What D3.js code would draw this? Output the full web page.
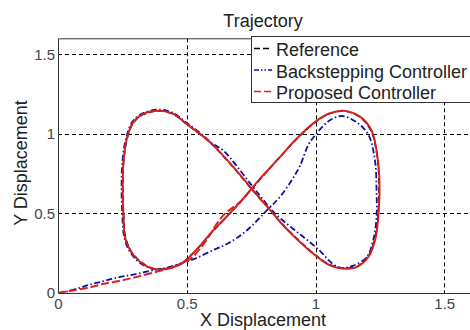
<!DOCTYPE html>
<html>
<head>
<meta charset="utf-8">
<script src="https://cdn.jsdelivr.net/npm/d3@7"></script>
<style>
  body { margin: 0; background: #fff; }
  svg { display: block; font-family: Arial, "Liberation Sans", sans-serif; }
</style>
</head>
<body>
<svg width="470" height="330"></svg>
<script>
// Data: [x, y] pairs
const reference = [
  [0.752, 0.652], [0.80, 0.742], [0.86, 0.852], [0.93, 0.972], [1.005, 1.08], [1.056, 1.127],
  [1.108, 1.143], [1.17, 1.108], [1.215, 1.02], [1.236, 0.895], [1.246, 0.727], [1.243, 0.5],
  [1.229, 0.332], [1.203, 0.228], [1.16, 0.166], [1.12, 0.155], [1.058, 0.176], [1.008, 0.228],
  [0.932, 0.336], [0.876, 0.425], [0.83, 0.51], [0.752, 0.652], [0.69, 0.772], [0.629, 0.882],
  [0.584, 0.955], [0.5, 1.06], [0.448, 1.122], [0.396, 1.143], [0.332, 1.122], [0.293, 1.07],
  [0.268, 0.966], [0.255, 0.82], [0.252, 0.655], [0.255, 0.488], [0.262, 0.352], [0.282, 0.268],
  [0.314, 0.206], [0.352, 0.165], [0.39, 0.149], [0.43, 0.157], [0.48, 0.187], [0.532, 0.262],
  [0.603, 0.39], [0.661, 0.488], [0.70, 0.556], [0.752, 0.652]
];

const backstepping = [
  [0, 0], [0.03, 0.008], [0.08, 0.03], [0.118, 0.05], [0.163, 0.069], [0.247, 0.103],
  [0.292, 0.115], [0.377, 0.146], [0.422, 0.158], [0.48, 0.188], [0.532, 0.216], [0.603, 0.27],
  [0.661, 0.312], [0.733, 0.393], [0.817, 0.529], [0.86, 0.6], [0.907, 0.707], [0.94, 0.8],
  [0.972, 0.93], [0.998, 0.99], [1.03, 1.05], [1.056, 1.085], [1.1, 1.112], [1.16, 1.072],
  [1.205, 0.995], [1.231, 0.832], [1.237, 0.644], [1.237, 0.476], [1.224, 0.33], [1.199, 0.226],
  [1.147, 0.172], [1.095, 0.158], [1.055, 0.2], [1.02, 0.26], [0.97, 0.33], [0.92, 0.394],
  [0.87, 0.46], [0.83, 0.52], [0.79, 0.6], [0.752, 0.677], [0.7, 0.785], [0.642, 0.895],
  [0.597, 0.942], [0.56, 0.995], [0.5, 1.068], [0.448, 1.13], [0.396, 1.152], [0.331, 1.13],
  [0.29, 1.078], [0.264, 0.97], [0.25, 0.82], [0.247, 0.655], [0.25, 0.487], [0.257, 0.351],
  [0.277, 0.265], [0.31, 0.2], [0.35, 0.16], [0.39, 0.146], [0.44, 0.16], [0.48, 0.186]
];

// proposed controller: transient from the origin, then the loop
const proposedStart = [
  [0, 0], [0.04, 0.012], [0.12, 0.034], [0.18, 0.058], [0.25, 0.08], [0.31, 0.103],
  [0.38, 0.132], [0.43, 0.153], [0.48, 0.184], [0.52, 0.222], [0.571, 0.32], [0.636, 0.477],
  [0.713, 0.582], [0.752, 0.655]
];
const proposedLoop = [
  [0.752, 0.655], [0.778, 0.706], [0.86, 0.85], [0.93, 0.975], [1.005, 1.083], [1.056, 1.129],
  [1.108, 1.145], [1.173, 1.108], [1.218, 1.02], [1.237, 0.895], [1.248, 0.727], [1.245, 0.498],
  [1.231, 0.33], [1.205, 0.226], [1.16, 0.163], [1.121, 0.153], [1.056, 0.174], [1.008, 0.226],
  [0.93, 0.335], [0.875, 0.424], [0.83, 0.509], [0.752, 0.656], [0.69, 0.775], [0.629, 0.885],
  [0.584, 0.957], [0.5, 1.062], [0.448, 1.125], [0.396, 1.145], [0.331, 1.125], [0.292, 1.072],
  [0.267, 0.968], [0.254, 0.821], [0.251, 0.655], [0.254, 0.487], [0.26, 0.351], [0.28, 0.268],
  [0.312, 0.205], [0.351, 0.163], [0.39, 0.147], [0.43, 0.155], [0.48, 0.184], [0.532, 0.262],
  [0.603, 0.393], [0.661, 0.49], [0.70, 0.558], [0.752, 0.656]
];

const xTicks = [0, 0.5, 1, 1.5];
const yTicks = [0, 0.5, 1, 1.5];
const legendLabels = ['Reference', 'Backstepping Controller', 'Proposed Controller'];

const svg = d3.select('svg');
const mLeft = 58, mRight = 470, mTop = 38.3, mBottom = 293;

const x = d3.scaleLinear().domain([0, 1.6]).range([mLeft, mRight]);
const y = d3.scaleLinear().domain([0, 1.6]).range([mBottom, mTop]);

svg.append('defs').append('clipPath').attr('id', 'plot')
  .append('rect')
  .attr('x', mLeft).attr('y', mTop)
  .attr('width', mRight - mLeft).attr('height', mBottom - mTop);

// grid
const grid = svg.append('g').attr('stroke', '#000').attr('stroke-width', 1)
  .attr('stroke-dasharray', '4,3').attr('clip-path', 'url(#plot)');
grid.selectAll('.gx').data(xTicks.slice(1)).enter().append('line')
  .attr('x1', d => Math.round(x(d)) + 0.5).attr('x2', d => Math.round(x(d)) + 0.5)
  .attr('y1', mTop).attr('y2', mBottom);
grid.selectAll('.gy').data(yTicks.slice(1)).enter().append('line')
  .attr('y1', d => Math.round(y(d)) + 0.5).attr('y2', d => Math.round(y(d)) + 0.5)
  .attr('x1', mLeft).attr('x2', mRight);

// axes
svg.append('g')
  .attr('transform', `translate(0,${mBottom})`)
  .call(d3.axisBottom(x).tickValues(xTicks).tickSize(0).tickPadding(5).tickFormat(d3.format('')))
  .call(g => g.select('.domain').remove())
  .selectAll('text').attr('font-size', 15).attr('fill', '#444')
  .attr('font-family', 'Arial, "Liberation Sans", sans-serif');

svg.append('g')
  .attr('transform', `translate(${mLeft},0)`)
  .call(d3.axisLeft(y).tickValues(yTicks).tickSize(0).tickPadding(3).tickFormat(d3.format('')))
  .call(g => g.select('.domain').remove())
  .selectAll('text').attr('font-size', 15).attr('fill', '#444')
  .attr('font-family', 'Arial, "Liberation Sans", sans-serif');

// series
const line = d3.line().x(d => x(d[0])).y(d => y(d[1])).curve(d3.curveCatmullRom);
const plot = svg.append('g').attr('clip-path', 'url(#plot)').attr('fill', 'none');

plot.append('path').attr('d', line(reference))
  .attr('stroke', '#000').attr('stroke-width', 1.5).attr('stroke-dasharray', '6,3');
plot.append('path').attr('d', line(backstepping))
  .attr('stroke', '#1010a0').attr('stroke-width', 1.8).attr('stroke-dasharray', '6,2.5,1.5,2.5');
plot.append('path').attr('d', line(proposedStart))
  .attr('stroke', '#dd2020').attr('stroke-width', 2).attr('stroke-dasharray', '8,3');
plot.append('path').attr('d', line(proposedLoop))
  .attr('stroke', '#d42020').attr('stroke-width', 2);

// box
svg.append('path')
  .attr('d', `M${mRight + 5},${mTop + 0.5}H${mLeft + 0.5}V${mBottom + 0.5}H${mRight + 5}`)
  .attr('fill', 'none').attr('stroke', '#333').attr('stroke-width', 1);

// title and labels
svg.append('text').attr('x', 263).attr('y', 27).attr('text-anchor', 'middle')
  .attr('font-size', 18).attr('fill', '#222').text('Trajectory');
svg.append('text').attr('x', 263).attr('y', 326).attr('text-anchor', 'middle')
  .attr('font-size', 18).attr('fill', '#222').text('X Displacement');
svg.append('text').attr('transform', 'translate(27,163) rotate(-90)').attr('text-anchor', 'middle')
  .attr('font-size', 18).attr('fill', '#222').text('Y Displacement');

// legend
const legend = svg.append('g');
legend.append('rect').attr('x', 251.5).attr('y', 36.5).attr('width', 230).attr('height', 66)
  .attr('fill', '#fff').attr('stroke', '#333').attr('stroke-width', 1);
const styles = [
  { color: '#000', dash: '6,3' },
  { color: '#1010a0', dash: '5,2,1.5,2,1.5,2' },
  { color: '#dd2020', dash: '7,3' }
];
legendLabels.forEach((label, i) => {
  const ly = 48.5 + i * 21.5;
  legend.append('line').attr('x1', 254).attr('x2', 272).attr('y1', ly).attr('y2', ly)
    .attr('stroke', styles[i].color).attr('stroke-width', 1.5).attr('stroke-dasharray', styles[i].dash);
  legend.append('text').attr('x', 276).attr('y', ly + 7.5)
    .attr('font-size', 18).attr('fill', '#222').text(label);
});
</script>
</body>
</html>
